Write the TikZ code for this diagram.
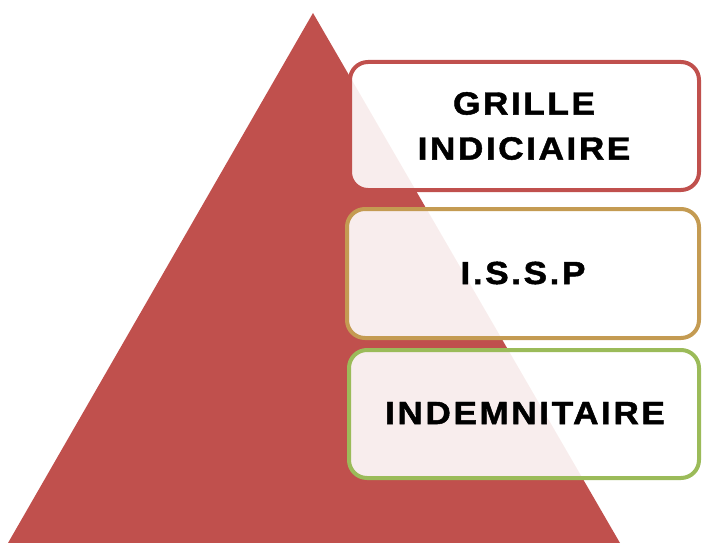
\documentclass[tikz,border=0pt]{standalone}
\usepackage{fontspec}
\setmainfont{Liberation Sans}
\newfontfamily\boxfont[LetterSpace=8,FakeStretch=1.1,FakeBold=1.5]{Liberation Sans Bold}
\definecolor{tri}{RGB}{192,80,77}
\definecolor{bred}{RGB}{192,80,77}
\definecolor{bgold}{RGB}{196,155,82}
\definecolor{bgreen}{RGB}{155,187,89}
\tikzset{
  levelbox/.style={line width=4pt, rounded corners=18pt, fill=white, fill opacity=0.9},
  lbl/.style={font=\boxfont\fontsize{32}{45}\selectfont, text=black, align=center}
}
\begin{document}
\begin{tikzpicture}[x=1pt,y=-1pt]
\useasboundingbox (0,0) rectangle (702,543);
\fill[tri] (313,13) -- (8,543) -- (620,543) -- cycle;
\filldraw[levelbox, draw=bred] (350,62) rectangle (699,190);
\filldraw[levelbox, draw=bgold] (347,209) rectangle (699,338);
\filldraw[levelbox, draw=bgreen] (349,350) rectangle (699,478);
\node[lbl] (t1) at (524,126) {GRILLE\\INDICIAIRE};
\node[lbl] (t2) at (523,273) {I.S.S.P};
\node[lbl] (t3) at (525,413) {INDEMNITAIRE};
\end{tikzpicture}
\end{document}
